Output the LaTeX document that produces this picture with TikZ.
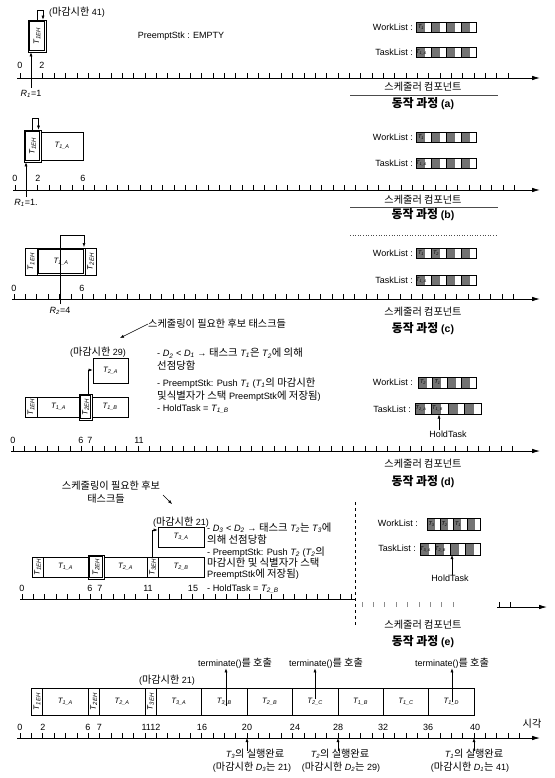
\documentclass[tikz,border=0pt]{standalone}
\usepackage{fontspec}
\usepackage{graphicx}
\setmainfont{Liberation Sans}
\newfontfamily\kr[Scale=1.13]{Noto Sans CJK KR}
\usetikzlibrary{arrows.meta}
\newcommand\K[1]{{\kr #1}}
\newcommand\Ti[1]{{\itshape T\textsubscript{#1}}}
\newcommand\Dd[1]{{\itshape D\textsubscript{#1}}}
\newcommand\Ri[1]{{\itshape R\textsubscript{#1}}}
\tikzset{
  tbox/.style={draw, line width=0.6pt, inner sep=0pt, font=\fontsize{7.8}{8}\selectfont},
  lbl/.style={inner sep=0pt, font=\fontsize{9}{10}\selectfont},
  txt/.style={inner sep=0pt, anchor=west, font=\fontsize{9.2}{10}\selectfont},
  ttl/.style={inner sep=0pt, font=\fontsize{10.5}{11}\selectfont\bfseries},
  arr/.style={line width=0.5pt, -{Latex[length=4pt,width=3pt]}},
  axisline/.style={line width=0.8pt, -{Latex[length=8pt,width=4.5pt]}},
  tk/.style={line width=0.5pt},
  cellfill/.style={fill=black!55},
  listfr/.style={line width=0.5pt},
  ctxt/.style={inner sep=0pt, font=\fontsize{5.5}{6}\selectfont},
  sepline/.style={line width=0.6pt, black!70},
  vdash/.style={line width=0.6pt, dashed},
}
\newcommand\bx[6]{\node[tbox, minimum width={(#3-(#2))*1pt}, minimum height={(#5-(#4))*1pt}] (#1) at ({(#2+#3)/2},{(#4+#5)/2}) {#6};}
\newcommand\bxd[6]{\node[tbox, minimum width={(#3-(#2))*1pt}, minimum height={(#5-(#4))*1pt}] (#1) at ({(#2+#3)/2},{(#4+#5)/2}) {#6};
  \draw[line width=0.6pt] ([shift={(1.8,1.8)}]#1.north west) rectangle ([shift={(-1.8,-1.8)}]#1.south east);}
\newcommand\tickrow[4]{\foreach \i in {0,...,#4}{\draw[tk] ({#1+\i*#3},#2) -- ++(0,-5);}}
\newcommand\lst[4]{%
  \foreach \i in {0,1,2,3}{\fill[cellfill] ({#1+\i*(#3)/4},#2) rectangle ++({(#3)/4*0.6},#4);}%
  \draw[listfr] (#1,#2) rectangle ++(#3,#4);%
  \foreach \i in {1,2,3}{\draw[listfr] ({#1+\i*(#3)/4},#2) -- ++(0,#4);}%
}
\newcommand\EH[1]{\rotatebox{90}{\fontsize{8}{8}\selectfont\Ti{#1EH}}}
\begin{document}
\begin{tikzpicture}[x=1pt,y=-1pt]
\useasboundingbox (0,0) rectangle (554,778);

%% ---------------- row (a)
\bxd{aEH}{28}{46}{20}{52}{\EH{1}}
\node[lbl] (a41) at (77,12) {(\K{마감시한} 41)};
\draw[arr] (aEH.north) -- ++(0,-9) -| ([xshift=6pt]aEH.north);
\coordinate (aR) at (31,88);
\draw[arr] (aR) -- (aR |- aEH.south);
\node[lbl] (aRl) at (31,94) {\Ri{1}=1};
\node[lbl] (al0) at (20,65) {0};
\node[lbl] (al2) at (42,65) {2};
\coordinate (aS) at (17,78); \coordinate (aE) at (540,78);
\draw[axisline] (aS) -- (aE);
\tickrow{20}{78}{11.35}{43}
\node[lbl] (aps) at (181,36) {PreemptStk : EMPTY};
\node[lbl,anchor=east] (awl) at (413,27) {WorkList :};
\lst{416}{22}{60}{10}
\node[ctxt] at (421,27) {\Ti{1}};
\node[lbl,anchor=east] (atl) at (413,52) {TaskList :};
\lst{416}{47}{60}{10}
\node[ctxt] at (421.5,52) {\Ti{1\_A}};
\node[lbl] (asc) at (423,87) {\K{스케줄러 컴포넌트}};
\draw[sepline] (350,95) -- (498,95);
\node[ttl] (att) at (423,104) {\K{동작 과정} (a)};

%% ---------------- row (b)
\bxd{bEH}{24}{41}{130}{162}{\EH{1}}
\bx{b1A}{41}{83}{132}{160}{\Ti{1\_A}}
\draw[arr] ([xshift=0pt]bEH.north) -- ++(0,-11) -| ([xshift=6pt]bEH.north);
\coordinate (bR) at (26,197);
\draw[arr] (bR) -- (bR |- bEH.south);
\node[lbl] (bRl) at (26,203) {\Ri{1}=1.};
\node[lbl] (bl0) at (15,178) {0};
\node[lbl] (bl2) at (38,178) {2};
\node[lbl] (bl6) at (83,178) {6};
\coordinate (bS) at (13,190); \coordinate (bE) at (540,190);
\draw[axisline] (bS) -- (bE);
\tickrow{15}{190}{11.35}{44}
\node[lbl,anchor=east] (bwl) at (413,137) {WorkList :};
\lst{416}{132}{60}{10}
\node[ctxt] at (421,137) {\Ti{1}};
\node[lbl,anchor=east] (btl) at (413,163) {TaskList :};
\lst{416}{158}{60}{10}
\node[ctxt] at (421.5,163) {\Ti{1\_A}};
\node[lbl] (bsc) at (423,200) {\K{스케줄러 컴포넌트}};
\draw[sepline] (350,207) -- (498,207);
\node[ttl] (btt) at (423,215) {\K{동작 과정} (b)};

%% ---------------- row (c)
\draw[sepline, dotted] (350,235) -- (498,235);
\bx{cEH}{25}{37}{248}{275}{\EH{1}}
\bxd{c1A}{37}{85}{248}{275}{\Ti{1\_A}}
\bx{c2EH}{85}{96}{248}{275}{\EH{2}}
\coordinate (cR) at (60,304); \coordinate (cTop) at (60,235); \coordinate (cTip) at (84,247);
\draw[arr] (cR) -- (cTop) -| (cTip);
\node[lbl] (cRl) at (60,311) {\Ri{2}=4};
\node[lbl] (cl0) at (14,288) {0};
\node[lbl] (cl6) at (82,288) {6};
\coordinate (cS) at (12,299); \coordinate (cE) at (540,299);
\draw[axisline] (cS) -- (cE);
\tickrow{14}{299}{11.35}{44}
\node[lbl,anchor=east] (cwl) at (413,253) {WorkList :};
\lst{416}{248}{60}{10}
\node[ctxt] at (421,253) {\Ti{1}};
\node[ctxt] at (436,253) {\Ti{2}};
\node[lbl,anchor=east] (ctl) at (413,280) {TaskList :};
\lst{416}{275}{60}{10}
\node[ctxt] at (421.5,280) {\Ti{1\_A}};
\node[lbl] (csc) at (423,312) {\K{스케줄러 컴포넌트}};
\node[ttl] (ctt) at (423,329) {\K{동작 과정} (c)};

%% ---------------- row (d)
\node[lbl, anchor=west] (dcand) at (148,324) {\K{스케줄링이 필요한 후보 태스크들}};
\coordinate (dcandA) at (120,338);
\draw[arr] (dcand.west) -- (dcandA);
\node[lbl] (d29) at (98,352) {(\K{마감시한} 29)};
\bx{d2A}{93}{128}{358}{383}{\Ti{2\_A}}
\bx{dEH}{25}{37}{397}{417}{\EH{1}}
\bx{d1A}{37}{80}{397}{417}{\Ti{1\_A}}
\bxd{d2EH}{79}{92}{394}{420}{\EH{2}}
\bx{d1B}{92}{128}{397}{417}{\Ti{1\_B}}
\draw[arr] (88,396) |- (d2A.west |- 0,370);
\node[txt] (dt1) at (157,353) {- \Dd{2} < \Dd{1} → \K{태스크} \Ti{1}\K{은} \Ti{2}\K{에 의해}};
\node[txt] (dt2) at (157,366) {\K{선점당함}};
\node[txt] (dt3) at (157,383) {- PreemptStk: Push \Ti{1} (\Ti{1}\K{의 마감시한}};
\node[txt] (dt4) at (157,396) {\K{및식별자가 스택} PreemptStk\K{에 저장됨})};
\node[txt] (dt5) at (157,409) {- HoldTask = \Ti{1\_B}};
\node[lbl] (dl0) at (13,440) {0};
\node[lbl] (dl6) at (81,440) {6};
\node[lbl] (dl7) at (90,440) {7};
\node[lbl] (dl11) at (139,440) {11};
\coordinate (dS) at (11,451); \coordinate (dE) at (540,451);
\draw[axisline] (dS) -- (dE);
\tickrow{13}{451}{11.35}{44}
\node[lbl,anchor=east] (dwl) at (413,382) {WorkList :};
\lst{418}{377}{58}{11}
\node[ctxt] at (423,382.5) {\Ti{2}};
\node[ctxt] at (437.5,382.5) {\Ti{1}};
\node[lbl,anchor=east] (dtl) at (411,409) {TaskList :};
\lst{415}{403}{66}{11}
\node[ctxt] at (421,408.5) {\Ti{2\_A}};
\node[ctxt] at (437.5,408.5) {\Ti{1\_B}};
\node[lbl] (dhold) at (448,434) {HoldTask};
\coordinate (dHT) at (439,414.5);
\draw[arr] (dhold.north -| dHT) -- (dHT);
\node[lbl] (dsc) at (423,464) {\K{스케줄러 컴포넌트}};
\node[ttl] (dtt) at (423,482) {\K{동작 과정} (d)};

%% ---------------- row (e)
\node[lbl] (ecand1) at (111,486) {\K{스케줄링이 필요한 후보}};
\node[lbl] (ecand2) at (106,499) {\K{태스크들}};
\coordinate (eca) at (163,495); \coordinate (ecb) at (172,504);
\draw[arr] (eca) -- (ecb);
\node[lbl] (e21) at (181,522) {(\K{마감시한} 21)};
\bx{e3A}{158}{204}{527}{547}{\Ti{3\_A}}
\bx{eEH}{32}{43}{557}{577}{\EH{1}}
\bx{e1A}{43}{88}{557}{577}{\Ti{1\_A}}
\bxd{e2EH}{88}{104}{555}{579}{\EH{2}}
\bx{e2A}{104}{147}{557}{577}{\Ti{2\_A}}
\bx{e3EH}{147}{158}{557}{577}{\EH{3}}
\bx{e2B}{158}{204}{557}{577}{\Ti{2\_B}}
\draw[arr] (152,557) |- (e3A.west |- 0,530);
\node[txt] (et1) at (207,528) {- \Dd{3} < \Dd{2} → \K{태스크} \Ti{2}\K{는} \Ti{3}\K{에}};
\node[txt] (et2) at (207,540) {\K{의해 선점당함}};
\node[txt] (et3) at (207,552) {- PreemptStk: Push \Ti{2} (\Ti{2}\K{의}};
\node[txt] (et4) at (207,563) {\K{마감시한 및 식별자가 스택}};
\node[txt] (et5) at (207,574) {PreemptStk\K{에 저장됨})};
\node[txt] (et6) at (207,589) {- HoldTask = \Ti{2\_B}};
\node[lbl] (el0) at (22,588) {0};
\node[lbl] (el6) at (90,588) {6};
\node[lbl] (el7) at (100,588) {7};
\node[lbl] (el11) at (148,588) {11};
\node[lbl] (el15) at (193,588) {15};
\coordinate (eS) at (20,599); \coordinate (eM) at (355,599);
\draw[line width=0.8pt] (eS) -- (eM);
\tickrow{22}{599}{11.35}{29}
\coordinate (eR1) at (497,607); \coordinate (eR2) at (547,607);
\draw[axisline] (eR1) -- (eR2);
\foreach \i in {0,...,8}{\draw[tk, black!45] ({362+\i*11.35},607) -- ++(0,-5);}
\foreach \i in {0,...,1}{\draw[tk] ({499+\i*11.35},607) -- ++(0,-5);}
\coordinate (eV1) at (355,502); \coordinate (eV2) at (355,626);
\draw[vdash] (eV1) -- (eV2);
\node[lbl,anchor=east] (ewl) at (418,523) {WorkList :};
\lst{427}{518}{53}{12}
\node[ctxt] at (431.5,524) {\Ti{3}};
\node[ctxt] at (444.5,524) {\Ti{2}};
\node[ctxt] at (458,524) {\Ti{1}};
\node[lbl,anchor=east] (etl) at (416,548) {TaskList :};
\lst{420}{543}{60}{12}
\node[ctxt] at (425.5,549) {\Ti{3\_A}};
\node[ctxt] at (440.5,549) {\Ti{2\_B}};
\node[lbl] (ehold) at (450,578) {HoldTask};
\coordinate (eHT) at (452,555);
\draw[arr] (ehold.north -| eHT) -- (eHT);
\node[lbl] (esc) at (423,625) {\K{스케줄러 컴포넌트}};
\node[ttl] (ett) at (423,642) {\K{동작 과정} (e)};

%% ---------------- row (f)
\node[lbl] (f21) at (167,680) {(\K{마감시한} 21)};
\bx{fEH}{31.35}{42.7}{688}{715}{\EH{1}}
\bx{f1A}{42.7}{88.1}{688}{715}{\Ti{1\_A}}
\bx{f2EH}{88.1}{99.45}{688}{715}{\EH{2}}
\bx{f2A}{99.45}{144.85}{688}{715}{\Ti{2\_A}}
\bx{f3EH}{144.85}{156.2}{688}{715}{\EH{3}}
\bx{f3A}{156.2}{201.6}{688}{715}{\Ti{3\_A}}
\bx{f3B}{201.6}{247}{688}{715}{\Ti{3\_B}}
\bx{f2B}{247}{292.4}{688}{715}{\Ti{2\_B}}
\bx{f2C}{292.4}{337.8}{688}{715}{\Ti{2\_C}}
\bx{f1B}{337.8}{383.2}{688}{715}{\Ti{1\_B}}
\bx{f1C}{383.2}{428.6}{688}{715}{\Ti{1\_C}}
\bx{f1D}{428.6}{474}{688}{715}{\Ti{1\_D}}
\node[lbl] (ft1) at (235,663) {terminate()\K{를 호출}};
\node[lbl] (ft2) at (326,663) {terminate()\K{를 호출}};
\node[lbl] (ft3) at (452,663) {terminate()\K{를 호출}};
\coordinate (fa1) at (226,706); \coordinate (fa2) at (315,699); \coordinate (fa3) at (452,702);
\draw[arr] (fa1) -- (fa1 |- ft1.south);
\draw[arr] (fa2) -- (fa2 |- ft2.south);
\draw[arr] (fa3) -- (fa3 |- ft3.south);
\foreach \t/\x in {0/20,2/43,6/88,7/99.5,16/202,20/247,24/295,28/338,32/383,36/428,40/475}{\node[lbl] at (\x,727) {\t};}
\node[lbl] (f1112) at (151,727) {1112};
\node[lbl] (ftime) at (532,724) {\K{시각}};
\coordinate (fS) at (17,738); \coordinate (fE) at (540,738);
\draw[axisline] (fS) -- (fE);
\tickrow{20}{738}{11.35}{44}
\node[lbl] (fc1) at (255,754) {\Ti{3}\K{의 실행완료}};
\node[lbl] (fd1) at (252,767) {(\K{마감시한} \Dd{3}\K{는} 21)};
\node[lbl] (fc2) at (340,754) {\Ti{2}\K{의 실행완료}};
\node[lbl] (fd2) at (341,767) {(\K{마감시한} \Dd{2}\K{는} 29)};
\node[lbl] (fc3) at (474,754) {\Ti{1}\K{의 실행완료}};
\node[lbl] (fd3) at (470,767) {(\K{마감시한} \Dd{1}\K{는} 41)};
\coordinate (fb1) at (247,751); \coordinate (fb2) at (338,751); \coordinate (fb3) at (474,751);
\draw[arr] (fb1) -- (fb1 |- fS);
\draw[arr] (fb2) -- (fb2 |- fS);
\draw[arr] (fb3) -- (fb3 |- fS);
\end{tikzpicture}
\end{document}
